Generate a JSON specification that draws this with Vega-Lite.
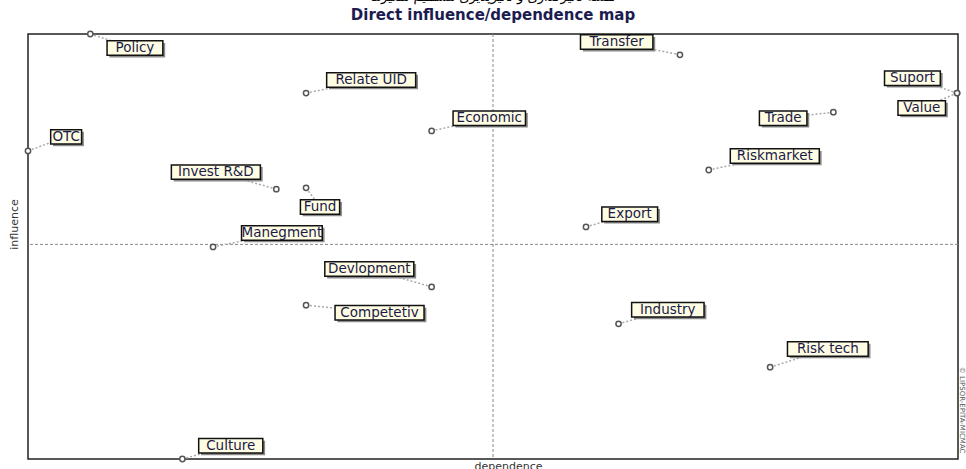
{
  "$schema": "https://vega.github.io/schema/vega-lite/v6.json",
  "width": 930,
  "height": 425,
  "autosize": {"type": "none"},
  "padding": {"left": 28, "top": 34, "right": 8, "bottom": 10},
  "background": "white",
  "title": {
    "text": "نقشه تأثیرگذاری و تأثیرپذیری مستقیم متغیرها",
    "subtitle": "Direct influence/dependence map",
    "anchor": "middle",
    "font": "DejaVu Sans",
    "fontSize": 13,
    "fontWeight": "normal",
    "color": "black",
    "subtitleFont": "DejaVu Sans",
    "subtitleFontSize": 15,
    "subtitleFontWeight": "bold",
    "subtitleColor": "#1c1c50",
    "subtitlePadding": 4,
    "offset": 5
  },
  "config": {
    "view": {"stroke": "#222", "strokeWidth": 1.5},
    "axis": {
      "labels": false,
      "ticks": false,
      "domain": false,
      "grid": false,
      "titleFont": "DejaVu Sans",
      "titleFontSize": 11,
      "titleFontWeight": "normal",
      "titleColor": "#333"
    },
    "axisX": {"titleX": 480, "titleY": 1},
    "axisY": {"titleX": -9, "titleY": 190}
  },
  "data": {
    "values": [
      {"label": "Policy", "dep": 6.7, "inf": 100.0, "lx": 11.5, "ly": 96.7},
      {"label": "Relate UID", "dep": 29.9, "inf": 86.1, "lx": 36.9, "ly": 89.2},
      {"label": "Economic", "dep": 43.4, "inf": 77.2, "lx": 49.6, "ly": 80.2},
      {"label": "OTC", "dep": 0.0, "inf": 72.5, "lx": 4.1, "ly": 75.8},
      {"label": "Invest R&D", "dep": 26.7, "inf": 63.5, "lx": 20.2, "ly": 67.5},
      {"label": "Fund", "dep": 29.9, "inf": 63.8, "lx": 31.4, "ly": 59.3},
      {"label": "Manegment", "dep": 19.9, "inf": 49.9, "lx": 27.3, "ly": 53.2},
      {"label": "Devlopment", "dep": 43.4, "inf": 40.5, "lx": 36.7, "ly": 44.7},
      {"label": "Competetiv", "dep": 29.9, "inf": 36.2, "lx": 37.8, "ly": 34.4},
      {"label": "Culture", "dep": 16.6, "inf": 0.0, "lx": 21.8, "ly": 3.1},
      {"label": "Transfer", "dep": 70.1, "inf": 95.1, "lx": 63.3, "ly": 98.1},
      {"label": "Suport", "dep": 99.9, "inf": 86.1, "lx": 95.1, "ly": 89.6},
      {"label": "Value", "dep": 99.9, "inf": 86.1, "lx": 96.1, "ly": 82.6},
      {"label": "Trade", "dep": 86.6, "inf": 81.6, "lx": 81.2, "ly": 80.2},
      {"label": "Riskmarket", "dep": 73.2, "inf": 68.0, "lx": 80.3, "ly": 71.3},
      {"label": "Export", "dep": 60.0, "inf": 54.6, "lx": 64.7, "ly": 57.6},
      {"label": "Industry", "dep": 63.5, "inf": 31.8, "lx": 68.8, "ly": 35.1},
      {"label": "Risk tech", "dep": 79.8, "inf": 21.6, "lx": 86.0, "ly": 25.9}
    ]
  },
  "transform": [
    {"calculate": "(length(datum.label) * 8.3 + 6) / 2 / 9.3", "as": "hw"},
    {"calculate": "datum.lx - datum.hw", "as": "bx1"},
    {"calculate": "datum.lx + datum.hw", "as": "bx2"},
    {"calculate": "datum.ly - 1.7", "as": "by1"},
    {"calculate": "datum.ly + 1.7", "as": "by2"},
    {"calculate": "datum.bx1 + 0.25", "as": "sx1"},
    {"calculate": "datum.bx2 + 0.25", "as": "sx2"},
    {"calculate": "datum.by1 - 0.5", "as": "sy1"},
    {"calculate": "datum.by2 - 0.5", "as": "sy2"}
  ],
  "layer": [
    {
      "data": {"values": [{"m": 50}]},
      "mark": {"type": "rule", "color": "#888", "strokeDash": [3, 2], "strokeWidth": 1},
      "encoding": {
        "x": {"field": "m", "type": "quantitative", "title": "dependence", "scale": {"domain": [0, 100], "nice": false, "zero": false}}
      }
    },
    {
      "data": {"values": [{"m": 50.5}]},
      "mark": {"type": "rule", "color": "#888", "strokeDash": [3, 2], "strokeWidth": 1},
      "encoding": {
        "y": {"field": "m", "type": "quantitative", "title": "influence", "scale": {"domain": [0, 100], "nice": false, "zero": false}}
      }
    },
    {
      "mark": {"type": "rule", "color": "#aaa", "strokeDash": [2, 2], "strokeWidth": 1.5},
      "encoding": {
        "x": {"field": "dep", "type": "quantitative", "title": "dependence", "scale": {"domain": [0, 100], "nice": false, "zero": false}},
        "y": {"field": "inf", "type": "quantitative", "title": "influence", "scale": {"domain": [0, 100], "nice": false, "zero": false}},
        "x2": {"field": "lx"},
        "y2": {"field": "ly"}
      }
    },
    {
      "mark": {"type": "point", "shape": "circle", "filled": true, "fill": "white", "stroke": "#555", "strokeWidth": 1.5, "size": 28, "opacity": 1},
      "encoding": {
        "x": {"field": "dep", "type": "quantitative", "title": "dependence", "scale": {"domain": [0, 100], "nice": false, "zero": false}},
        "y": {"field": "inf", "type": "quantitative", "title": "influence", "scale": {"domain": [0, 100], "nice": false, "zero": false}}
      }
    },
    {
      "mark": {"type": "rect", "fill": "#8a8a8a"},
      "encoding": {
        "x": {"field": "sx1", "type": "quantitative", "title": "dependence", "scale": {"domain": [0, 100], "nice": false, "zero": false}},
        "x2": {"field": "sx2"},
        "y": {"field": "sy1", "type": "quantitative", "title": "influence", "scale": {"domain": [0, 100], "nice": false, "zero": false}},
        "y2": {"field": "sy2"}
      }
    },
    {
      "mark": {"type": "rect", "fill": "#fffce4", "stroke": "#111", "strokeWidth": 1.5},
      "encoding": {
        "x": {"field": "bx1", "type": "quantitative", "title": "dependence", "scale": {"domain": [0, 100], "nice": false, "zero": false}},
        "x2": {"field": "bx2"},
        "y": {"field": "by1", "type": "quantitative", "title": "influence", "scale": {"domain": [0, 100], "nice": false, "zero": false}},
        "y2": {"field": "by2"}
      }
    },
    {
      "mark": {"type": "text", "font": "DejaVu Sans", "fontSize": 13.5, "color": "#1a1a48", "align": "center", "baseline": "middle"},
      "encoding": {
        "x": {"field": "lx", "type": "quantitative", "title": "dependence", "scale": {"domain": [0, 100], "nice": false, "zero": false}},
        "y": {"field": "ly", "type": "quantitative", "title": "influence", "scale": {"domain": [0, 100], "nice": false, "zero": false}},
        "text": {"field": "label"}
      }
    },
    {
      "data": {"values": [{"t": "© LIPSOR-EPITA-MICMAC", "wx": 100.4, "wy": 11.5}]},
      "mark": {"type": "text", "font": "DejaVu Sans", "fontSize": 7, "color": "#555", "angle": 90, "align": "center", "baseline": "middle"},
      "encoding": {
        "x": {"field": "wx", "type": "quantitative", "title": "dependence", "scale": {"domain": [0, 100], "nice": false, "zero": false}},
        "y": {"field": "wy", "type": "quantitative", "title": "influence", "scale": {"domain": [0, 100], "nice": false, "zero": false}},
        "text": {"field": "t"}
      }
    }
  ]
}
